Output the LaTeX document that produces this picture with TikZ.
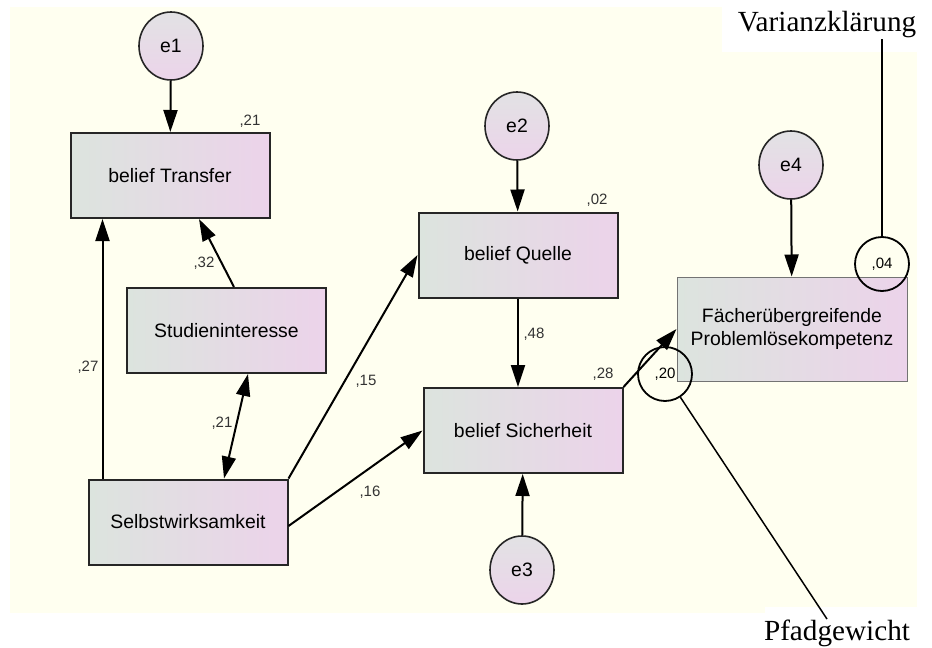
\documentclass[tikz,border=0pt]{standalone}
\usepackage{fontspec}
\setmainfont{Liberation Serif}
\newfontfamily\amos{Liberation Sans}
\usetikzlibrary{arrows.meta,shapes.geometric}
\definecolor{ivory}{RGB}{255,255,240}
\definecolor{boxleft}{RGB}{220,228,222}
\definecolor{boxright}{RGB}{236,211,234}
\definecolor{errtop}{RGB}{226,226,228}
\definecolor{errbottom}{RGB}{236,212,234}

\begin{document}
\begin{tikzpicture}[x=0.5pt,y=-0.5pt,>={Triangle[length=11pt,width=7pt]},
 var node/.style={rectangle,draw=black!85,line width=1pt,left color=boxleft,right color=boxright,minimum width=99.5pt,minimum height=42.5pt,inner sep=0pt,font=\amos\fontsize{9.7}{11.3}\selectfont,align=center},
 err node/.style={ellipse,draw=black!85,line width=0.8pt,top color=errtop,bottom color=errbottom,minimum width=32pt,minimum height=34pt,inner sep=0pt,font=\amos\fontsize{9.7}{11.3}\selectfont},
 coef/.style={font=\amos\fontsize{7.5}{9}\selectfont,text=black!80,inner sep=0pt},
 effect/.style={->,line width=1pt},
 note circle/.style={circle,draw,line width=0.9pt,minimum size=27pt,inner sep=0pt,font=\amos\fontsize{7.5}{9}\selectfont},
 note/.style={font=\fontsize{14.6}{16}\selectfont,inner sep=0pt}]

\useasboundingbox (0,0) rectangle (932,648);
\fill[ivory] (10,7) rectangle (917,613);
\fill[white] (722,0) rectangle (932,52);
\fill[white] (765,607) rectangle (932,648);

\node at (171,46) [err node] (e1) {e1};
\node at (517,126) [err node] (e2) {e2};
\node at (522,570) [err node] (e3) {e3};
\node at (791,165) [err node] (e4) {e4};

\node at (170,175.5) [var node] (trans) {belief Transfer};
\node at (226.5,330.5) [var node] (studien) {Studieninteresse};
\node at (188,522) [var node] (selbst) {Selbstwirksamkeit};
\node at (518,255) [var node] (quelle) {belief Quelle};
\node at (523,430.5) [var node] (sicher) {belief Sicherheit};
\node at (792,329) [var node,draw=black!55,line width=0.5pt,minimum width=115pt,minimum height=52pt] (faecher) {Fächerübergreifende\\Problemlösekompetenz};

\node at (250,121) [coef] (r2trans) {,21};
\node at (597,200) [coef] (r2quelle) {,02};
\node at (603,374) [coef] (r2sicher) {,28};
\node at (204,263) [coef] (p32) {,32};
\node at (88,367) [coef] (p27) {,27};
\node at (222,423) [coef] (k21) {,21};
\node at (366,381) [coef] (p15) {,15};
\node at (370,492) [coef] (p16) {,16};
\node at (534,334) [coef] (p48) {,48};

\node at (665,374) [note circle] (c20) {,20};
\node at (882,264) [note circle] (c04) {,04};
\node at (827,32) [note,anchor=base] (varianz) {Varianzklärung};
\node at (837,640) [note,anchor=base] (pfad) {Pfadgewicht};

\draw[effect] (e1) -- (trans);
\draw[effect] (e2) -- (quelle);
\draw[effect] (e3) -- (sicher);
\draw[effect] (e4) -- (faecher);
\draw[effect] ([xshift=7.5pt]selbst.north west) -- ([xshift=7.5pt]selbst.north west |- trans.south);
\draw[effect] ([xshift=3.75pt]studien.north) -- ([xshift=14.5pt]trans.south);
\draw[<->,line width=1pt] ([xshift=18pt]selbst.north) -- ([xshift=10.75pt]studien.south);
\draw[effect] (selbst.north east) -- (quelle.west);
\draw[effect] ([yshift=-2pt]selbst.east) -- (sicher.west);
\draw[effect] (quelle.south) -- (quelle.south |- sicher.north);
\draw[effect] (sicher.north east) -- (faecher.west);

\draw[line width=0.75pt] (c04) -- (c04 |- varianz.south);
\draw[line width=0.75pt] (c20) -- ([xshift=-5pt]pfad.north);

\end{tikzpicture}
\end{document}
